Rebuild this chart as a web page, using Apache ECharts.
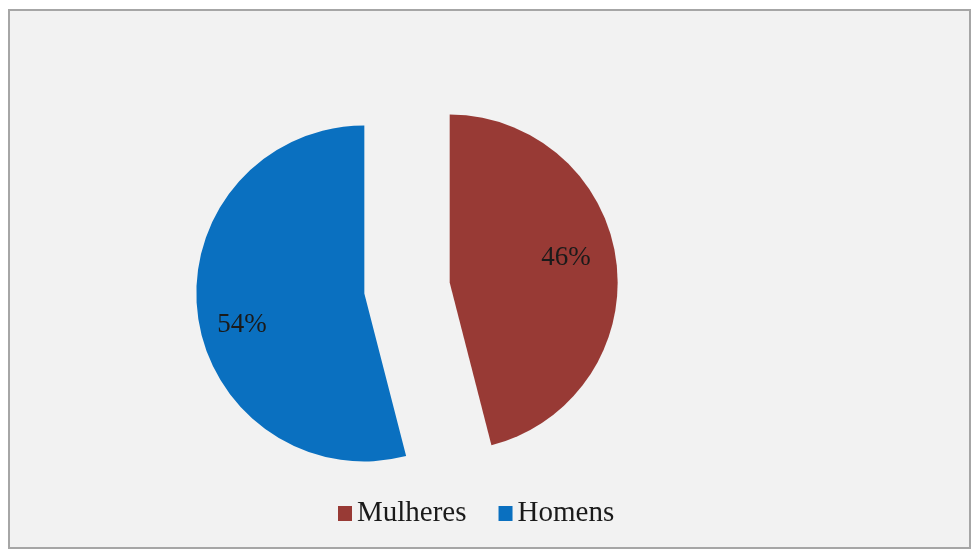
<!DOCTYPE html>
<html>
<head>
<meta charset="utf-8">
<script src="https://cdn.jsdelivr.net/npm/echarts@6/dist/echarts.min.js"></script>
<style>
  html, body { margin: 0; padding: 0; background: #ffffff; }
  #chart { width: 975px; height: 560px; }
</style>
</head>
<body>
<div id="chart"></div>
<script>
// dados do gráfico
var categorias = ['Mulheres', 'Homens'];
var valores = [46, 54];
var cores = ['#983a35', '#0a70c0'];
// deslocamento de cada rótulo (ajuste fino)
var deslocRotulo = [[30, -14], [-36, 21]];

var myChart = echarts.init(document.getElementById('chart'));

var dados = categorias.map(function (nome, i) {
    return {
        name: nome,
        value: valores[i],
        selected: true,
        itemStyle: { color: cores[i] }
    };
});

var option = {
    animation: false,
    backgroundColor: '#ffffff',
    graphic: [{
        type: 'rect',
        z: -10,
        shape: { x: 9, y: 10, width: 961, height: 538 },
        style: { fill: '#f2f2f2', stroke: '#a6a6a6', lineWidth: 2 }
    }],
    legend: {
        data: categorias,
        left: 333,
        top: 494,
        itemWidth: 14,
        itemHeight: 15,
        itemGap: 32,
        icon: 'rect',
        textStyle: {
            fontFamily: 'Liberation Serif',
            fontSize: 29,
            color: '#1a1a1a'
        }
    },
    series: [{
        type: 'pie',
        center: [407, 288],
        radius: [0, 168],
        startAngle: 90,
        clockwise: true,
        selectedMode: 'multiple',
        selectedOffset: 43,
        label: {
            show: true,
            position: 'inside',
            formatter: '{d}%',
            fontFamily: 'Liberation Serif',
            fontSize: 27,
            color: '#1a1a1a'
        },
        labelLayout: function (params) {
            var d = deslocRotulo[params.dataIndex];
            return { dx: d[0], dy: d[1] };
        },
        labelLine: { show: false },
        emphasis: { disabled: true },
        data: dados
    }]
};

myChart.setOption(option);
</script>
</body>
</html>
